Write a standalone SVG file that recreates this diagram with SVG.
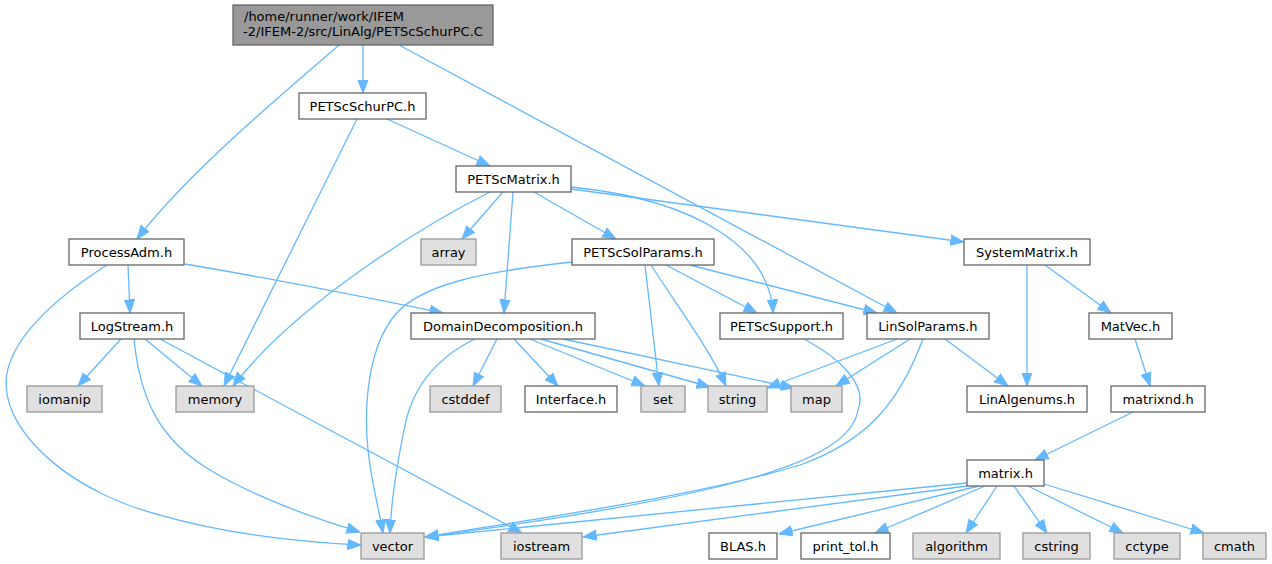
<svg xmlns="http://www.w3.org/2000/svg" width="1272" height="564" viewBox="0 0 1272 564">
<style>
text{font-family:"DejaVu Sans","Liberation Sans",sans-serif;font-size:13px;fill:#000;text-anchor:middle}
.w rect{fill:#fff;stroke:#666;stroke-width:1.3}
.g rect{fill:#e0e0e0;stroke:#999;stroke-width:1.3}
.r rect{fill:#999;stroke:#666;stroke-width:1.3}
#edges path{fill:none;stroke:#63b8ff;stroke-width:1.3;marker-end:url(#a)}
</style>
<defs>
<marker id="a" viewBox="0 0 14 12" markerWidth="14" markerHeight="12" refX="13.5" refY="6" markerUnits="userSpaceOnUse" orient="auto">
<path d="M0,0.8 L13.5,6 L0,11.2 z" fill="#63b8ff" stroke="#63b8ff" stroke-width="1"/>
</marker>
</defs>
<rect width="1272" height="564" fill="#fff"/>
<g id="edges">
<path d="M339,45 C290,88 190,170 137,239"/>
<path d="M363,45 L363,93"/>
<path d="M399,45 L897,313"/>
<path d="M387,119 L490,166"/>
<path d="M357,119 L224,386"/>
<path d="M503,192 L462,239"/>
<path d="M490,192 C430,222 300,300 233,386"/>
<path d="M513,192 L504,313"/>
<path d="M534,192 L616,239"/>
<path d="M571,187 C700,200 770,250 773,313"/>
<path d="M571,189 L964,242"/>
<path d="M572,262 C480,272 420,285 395,315 C370,345 363,400 368,450 C371,480 378,505 383,533"/>
<path d="M645,265 L659,386"/>
<path d="M651,265 C680,310 710,350 726,386"/>
<path d="M666,265 L757,313"/>
<path d="M690,265 L877,313"/>
<path d="M128,265 L130,313"/>
<path d="M185,264 C280,280 380,300 443,313"/>
<path d="M107,265 C60,295 5,340 6,385 C8,440 80,495 160,515 C230,535 300,542 361,545"/>
<path d="M121,339 L78,386"/>
<path d="M145,339 L202,386"/>
<path d="M134,339 C140,400 160,440 210,470 C260,500 320,520 360,532"/>
<path d="M160,339 L522,533"/>
<path d="M475,339 C440,356 412,385 404,430 C396,470 391,500 390,533"/>
<path d="M497,339 L473,386"/>
<path d="M514,339 L558,386"/>
<path d="M530,339 L645,386"/>
<path d="M541,339 L710,387"/>
<path d="M563,339 L794,388"/>
<path d="M804,339 C840,358 868,385 858,410 C850,460 740,495 425,537"/>
<path d="M897,339 L767,388"/>
<path d="M910,339 L836,386"/>
<path d="M945,339 L1008,386"/>
<path d="M923,339 C900,400 870,440 800,465 C700,495 560,515 425,537"/>
<path d="M1027,265 L1027,386"/>
<path d="M1045,265 L1111,313"/>
<path d="M1135,339 L1150,386"/>
<path d="M1133,412 L1035,460"/>
<path d="M967,483 L425,537"/>
<path d="M967,486 L583,537"/>
<path d="M979,486 L779,534"/>
<path d="M985,486 L875,533"/>
<path d="M997,486 L966,533"/>
<path d="M1014,486 L1047,533"/>
<path d="M1028,486 L1123,533"/>
<path d="M1044,484 L1204,533"/>
</g>
<g id="n_root" class="r"><rect x="233" y="5" width="260" height="40"/><text x="244" y="21" style="text-anchor:start">/home/runner/work/IFEM</text><text x="363" y="36">-2/IFEM-2/src/LinAlg/PETScSchurPC.C</text></g>
<g id="n_PETScSchurPC" class="w"><rect x="299" y="93" width="127" height="26"/><text x="362.5" y="110.5">PETScSchurPC.h</text></g>
<g id="n_ProcessAdm" class="w"><rect x="69" y="239" width="115" height="26"/><text x="126.5" y="256.5">ProcessAdm.h</text></g>
<g id="n_PETScMatrix" class="w"><rect x="456" y="166" width="115" height="26"/><text x="513.5" y="183.5">PETScMatrix.h</text></g>
<g id="n_array" class="g"><rect x="421" y="239" width="55" height="26"/><text x="448.5" y="256.5">array</text></g>
<g id="n_PETScSolParams" class="w"><rect x="572" y="239" width="142" height="26"/><text x="643" y="256.5">PETScSolParams.h</text></g>
<g id="n_SystemMatrix" class="w"><rect x="964" y="239" width="126" height="26"/><text x="1027" y="256.5">SystemMatrix.h</text></g>
<g id="n_LogStream" class="w"><rect x="80" y="313" width="104" height="26"/><text x="132" y="330.5">LogStream.h</text></g>
<g id="n_DomainDecomposition" class="w"><rect x="411" y="313" width="184" height="26"/><text x="503" y="330.5">DomainDecomposition.h</text></g>
<g id="n_PETScSupport" class="w"><rect x="720" y="313" width="123" height="26"/><text x="781.5" y="330.5">PETScSupport.h</text></g>
<g id="n_LinSolParams" class="w"><rect x="867" y="313" width="122" height="26"/><text x="928" y="330.5">LinSolParams.h</text></g>
<g id="n_MatVec" class="w"><rect x="1089" y="313" width="83" height="26"/><text x="1130.5" y="330.5">MatVec.h</text></g>
<g id="n_iomanip" class="g"><rect x="27" y="386" width="75" height="26"/><text x="64.5" y="403.5">iomanip</text></g>
<g id="n_memory" class="g"><rect x="176" y="386" width="78" height="26"/><text x="215" y="403.5">memory</text></g>
<g id="n_cstddef" class="g"><rect x="430" y="386" width="71" height="26"/><text x="465.5" y="403.5">cstddef</text></g>
<g id="n_Interface" class="w"><rect x="525" y="386" width="92" height="26"/><text x="571" y="403.5">Interface.h</text></g>
<g id="n_set" class="g"><rect x="641" y="386" width="44" height="26"/><text x="663" y="403.5">set</text></g>
<g id="n_string" class="g"><rect x="708" y="386" width="59" height="26"/><text x="737.5" y="403.5">string</text></g>
<g id="n_map" class="g"><rect x="791" y="386" width="51" height="26"/><text x="816.5" y="403.5">map</text></g>
<g id="n_LinAlgenums" class="w"><rect x="967" y="386" width="120" height="26"/><text x="1027" y="403.5">LinAlgenums.h</text></g>
<g id="n_matrixnd" class="w"><rect x="1111" y="386" width="94" height="26"/><text x="1158" y="403.5">matrixnd.h</text></g>
<g id="n_matrix" class="w"><rect x="967" y="460" width="77" height="26"/><text x="1005.5" y="477.5">matrix.h</text></g>
<g id="n_vector" class="g"><rect x="361" y="533" width="63" height="26"/><text x="392.5" y="550.5">vector</text></g>
<g id="n_iostream" class="g"><rect x="501" y="533" width="81" height="26"/><text x="541.5" y="550.5">iostream</text></g>
<g id="n_BLAS" class="w"><rect x="709" y="533" width="68" height="26"/><text x="743" y="550.5">BLAS.h</text></g>
<g id="n_print_tol" class="w"><rect x="801" y="533" width="89" height="26"/><text x="845.5" y="550.5">print_tol.h</text></g>
<g id="n_algorithm" class="g"><rect x="913" y="533" width="87" height="26"/><text x="956.5" y="550.5">algorithm</text></g>
<g id="n_cstring" class="g"><rect x="1023" y="533" width="67" height="26"/><text x="1056.5" y="550.5">cstring</text></g>
<g id="n_cctype" class="g"><rect x="1114" y="533" width="66" height="26"/><text x="1147" y="550.5">cctype</text></g>
<g id="n_cmath" class="g"><rect x="1203" y="533" width="63" height="26"/><text x="1234.5" y="550.5">cmath</text></g>
</svg>
